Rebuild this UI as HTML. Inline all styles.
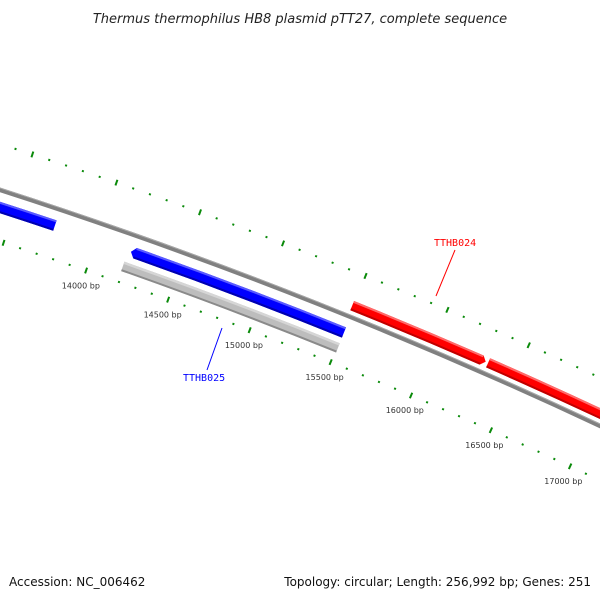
<!DOCTYPE html>
<html><head><meta charset="utf-8"><style>
body{margin:0;background:#fff;}
svg{display:block;font-family:"DejaVu Sans","Liberation Sans",sans-serif;}
</style></head><body>
<svg id="map" width="600" height="600" viewBox="0 0 600 600">
<rect width="600" height="600" fill="#fff"/>
<text x="300" y="23" text-anchor="middle" font-size="13" font-style="italic" fill="#222">Thermus thermophilus HB8 plasmid pTT27, complete sequence</text>
<g id="ticks"></g>
<g id="tracks"></g>
<g id="labels"></g>
<line x1="222" y1="328" x2="207" y2="370" stroke="#0000ff" stroke-width="1"/>
<text x="183" y="381" font-size="10" fill="#0000ff" font-family="DejaVu Sans Mono, Liberation Mono, monospace">TTHB025</text>
<line x1="455" y1="250" x2="436" y2="296" stroke="#ff0000" stroke-width="1"/>
<text x="434" y="246" font-size="10" fill="#ff0000" font-family="DejaVu Sans Mono, Liberation Mono, monospace">TTHB024</text>
<text x="9" y="586" font-size="12" fill="#111">Accession: NC_006462</text>
<text x="591" y="586" font-size="12" fill="#111" text-anchor="end">Topology: circular; Length: 256,992 bp; Genes: 251</text>
</svg>
<script>
const tickLabels = [14000, 14500, 15000, 15500, 16000, 16500, 17000];
const geneStarts = [13000, 14207, 15493, 16330];
const geneEnds = [13748, 15507, 16315, 17600];
const geneStrands = [-1, -1, 1, 1];
const geneNames = ['gene-reverse-1', 'tthb025', 'tthb024', 'gene-forward-2'];
const orfStarts = [14191];
const orfEnds = [15508];

const NS = 'http://www.w3.org/2000/svg';
const CX = -1556, CY = 5026;
function ang(bp){ return (-70.95 + (bp - 14000) * 0.001983) * Math.PI / 180; }
function pt(bp, r){ const a = ang(bp); return [CX + r*Math.cos(a), CY + r*Math.sin(a)]; }
function f(p){ return p[0].toFixed(2)+','+p[1].toFixed(2); }
function band(s, e, rIn, rOut){
  return 'M'+f(pt(s,rOut))+' A'+rOut+','+rOut+' 0 0 1 '+f(pt(e,rOut))+
    ' L'+f(pt(e,rIn))+' A'+rIn+','+rIn+' 0 0 0 '+f(pt(s,rIn))+' Z';
}
function mk(tag, parent, attrs){
  const el = document.createElementNS(NS, tag);
  for (const k in attrs) el.setAttribute(k, attrs[k]);
  parent.appendChild(el); return el;
}
const ticksG = document.getElementById('ticks');
const tracksG = document.getElementById('tracks');
const labelsG = document.getElementById('labels');

for (let bp = 12000; bp <= 18500; bp += 100) {
  const major = bp % 500 === 0;
  [[5124, 'outer'], [5031, 'inner']].forEach(([r, row]) => {
    const h = major ? 3 : 1;
    const p1 = pt(bp, r - h), p2 = pt(bp, r + h);
    const l = mk('line', ticksG, {x1:p1[0], y1:p1[1], x2:p2[0], y2:p2[1], stroke:'#0a8a0a', 'stroke-width':2});
    
    
  });
}
tickLabels.forEach(bp => {
  const p = pt(bp, 5015);
  const t = mk('text', labelsG, {x:p[0], y:p[1]+3, 'text-anchor':'middle', 'font-size':8, fill:'#333'});
  t.textContent = bp + ' bp';
  
  
});

let bb = mk('path', tracksG, {d:band(12000, 18500, 5078, 5082.5), fill:'#808080'});


let bbh = mk('path', tracksG, {d:band(12000, 18500, 5081.5, 5082.5), fill:'#a8a8a8'});



orfStarts.forEach((s, i) => {
  const e = orfEnds[i];
  const g = mk('path', tracksG, {d:band(s, e, 5042, 5052), fill:'#bdbdbd'});
  
  
  const hi = mk('path', tracksG, {d:band(s, e, 5049.5, 5052), fill:'#d6d6d6'});
  
  
  const lo = mk('path', tracksG, {d:band(s, e, 5042, 5044), fill:'#8a8a8a'});
  
  
});

const AL = 25;
geneStarts.forEach((s, i) => {
  const e = geneEnds[i], strand = geneStrands[i];
  const rIn = strand > 0 ? 5086.5 : 5058, rOut = strand > 0 ? 5096.5 : 5069;
  const rMid = (rIn + rOut) / 2;
  const base = strand > 0 ? '#ff0000' : '#0000ff';
  const light = strand > 0 ? '#ff6a6a' : '#5a5aff';
  const dark = strand > 0 ? '#c00000' : '#0000b0';
  let d;
  if (strand > 0) {
    const sh = e - AL;
    d = 'M'+f(pt(s,rOut))+' A'+rOut+','+rOut+' 0 0 1 '+f(pt(sh,rOut))+' L'+f(pt(e,rMid))+' L'+f(pt(sh,rIn))+
        ' A'+rIn+','+rIn+' 0 0 0 '+f(pt(s,rIn))+' Z';
  } else {
    const sh = s + AL;
    d = 'M'+f(pt(s,rMid))+' L'+f(pt(sh,rOut))+' A'+rOut+','+rOut+' 0 0 1 '+f(pt(e,rOut))+' L'+f(pt(e,rIn))+
        ' A'+rIn+','+rIn+' 0 0 0 '+f(pt(sh,rIn))+' Z';
  }
  const g = mk('path', tracksG, {d:d, fill:base});
  
  
  const hs = strand > 0 ? s : s + AL, he = strand > 0 ? e - AL : e;
  const hi = mk('path', tracksG, {d:band(hs, he, rOut - 2, rOut), fill:light});
  
  
  const lo = mk('path', tracksG, {d:band(hs, he, rIn, rIn + 2), fill:dark});
  
  
});
</script>
</body></html>
